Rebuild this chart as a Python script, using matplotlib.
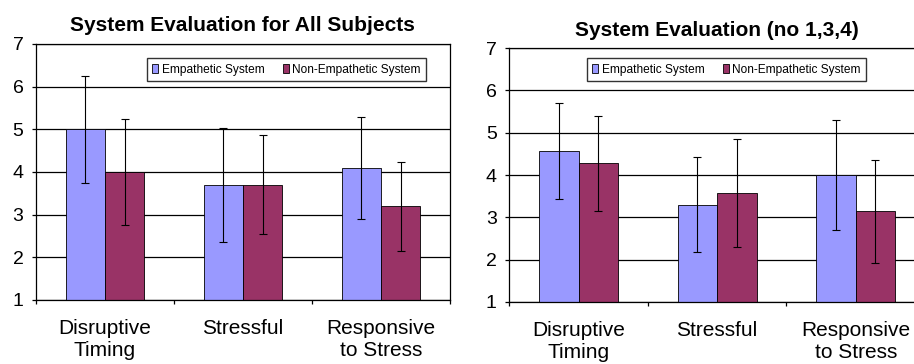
import matplotlib
matplotlib.use("Agg")
import matplotlib.pyplot as plt
import numpy as np
from matplotlib.patches import Patch

plt.rcParams['font.family'] = ['Liberation Sans', 'DejaVu Sans']

categories = ["Disruptive\nTiming", "Stressful", "Responsive\nto Stress"]
series_names = ["Empathetic System", "Non-Empathetic System"]
colors = ["#9999FF", "#993366"]

# All subjects
all_emp = [5.0, 3.7, 4.1]
all_non = [4.0, 3.7, 3.2]
all_emp_err = [1.25, 1.34, 1.2]
all_non_err = [1.25, 1.16, 1.04]

# Excluding subjects 1, 3, 4
sub_emp = [4.57, 3.3, 4.0]
sub_non = [4.28, 3.57, 3.14]
sub_emp_err = [1.13, 1.12, 1.3]
sub_non_err = [1.12, 1.27, 1.22]

yticks = [1, 2, 3, 4, 5, 6, 7]

fig = plt.figure(figsize=(9.14, 3.64), dpi=100)


def draw_panel(ax, title, emp, non, emp_err, non_err, title_x, leg_anchor):
    x = np.arange(len(categories))
    w = 0.285
    ax.set_axisbelow(True)
    ax.yaxis.grid(True, color="black", linewidth=0.9)
    for vals, errs, col, off in ((emp, emp_err, colors[0], -w / 2),
                                 (non, non_err, colors[1], w / 2)):
        ax.bar(x + off, np.array(vals) - 1, width=w, bottom=1, color=col,
               edgecolor="black", linewidth=0.6, zorder=2)
        ax.errorbar(x + off, vals, yerr=errs, fmt="none", ecolor="black",
                    elinewidth=0.8, capsize=3, capthick=0.8, zorder=3)
    ax.set_xlim(-0.5, len(categories) - 0.5)
    ax.set_ylim(1, 7)
    ax.set_yticks(yticks)
    ax.set_yticklabels([str(v) for v in yticks], fontsize=14)
    ax.set_xticks(x)
    ax.set_xticklabels(categories, fontsize=15)
    ax.tick_params(axis="x", which="major", length=0, pad=14)
    ax.set_xticks(np.arange(-0.5, len(categories) + 0.5, 1.0), minor=True)
    ax.tick_params(axis="x", which="minor", length=3, width=0.9,
                   direction="out")
    ax.tick_params(axis="y", length=3, width=0.9, pad=6)
    for s in ax.spines.values():
        s.set_color("black")
        s.set_linewidth(0.9)
    ax.set_title(title, fontsize=15, fontweight="bold", pad=9, x=title_x)
    handles = [Patch(facecolor=c, edgecolor="black", linewidth=0.6)
               for c in colors]
    leg = ax.legend(handles, series_names, loc="upper right", ncol=2,
                    fontsize=8.6, frameon=True, fancybox=False,
                    handlelength=0.5, handleheight=0.7, handletextpad=0.3,
                    columnspacing=1.5, borderpad=0.45, borderaxespad=0,
                    bbox_to_anchor=leg_anchor)
    leg.get_frame().set_edgecolor("black")
    leg.get_frame().set_linewidth(1.0)
    return ax


ax1 = fig.add_axes([36 / 914, 1 - 300 / 364, 414 / 914, 256 / 364])
draw_panel(ax1, "System Evaluation for All Subjects", all_emp, all_non,
           all_emp_err, all_non_err, (242 - 36) / 414, (0.942, 0.944))

ax2 = fig.add_axes([509.3 / 914, 1 - 302 / 364, 415.7 / 914, 254 / 364])
draw_panel(ax2, "System Evaluation (no 1,3,4)", sub_emp, sub_non,
           sub_emp_err, sub_non_err, (716.7 - 509.3) / 415.7, (0.858, 0.959))

fig.savefig("out.png", dpi=100)
